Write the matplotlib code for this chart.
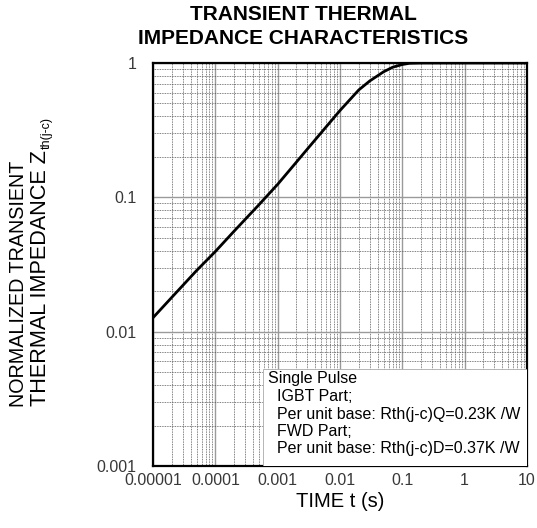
import numpy as np
import matplotlib
matplotlib.use("Agg")
import matplotlib.pyplot as plt
from matplotlib.patches import Rectangle
from matplotlib.ticker import FixedLocator, FixedFormatter, LogLocator, NullFormatter

plt.rcParams['font.family'] = ['Liberation Sans', 'DejaVu Sans']

time_s = [1e-5, 2e-5, 5e-5, 1e-4, 2e-4, 5e-4, 1e-3, 2e-3, 3e-3, 5e-3,
          1e-2, 2e-2, 3e-2, 5e-2, 7e-2, 0.1, 0.13, 0.2, 1.0, 10.0]
zth = [0.0127, 0.018, 0.0285, 0.0395, 0.056, 0.088, 0.125, 0.183, 0.229, 0.303,
       0.443, 0.63, 0.735, 0.86, 0.93, 0.975, 0.995, 1.0, 1.0, 1.0]

xticks = [1e-5, 1e-4, 1e-3, 1e-2, 1e-1, 1, 10]
xticklabels = ["0.00001", "0.0001", "0.001", "0.01", "0.1", "1", "10"]
yticks = [1e-3, 1e-2, 1e-1, 1]
yticklabels = ["0.001", "0.01", "0.1", "1"]

note_lines = ["Single Pulse",
              "  IGBT Part;",
              "  Per unit base: Rth(j-c)Q=0.23K /W",
              "  FWD Part;",
              "  Per unit base: Rth(j-c)D=0.37K /W"]

fig = plt.figure(figsize=(5.37, 5.28), dpi=100)
ax = fig.add_axes([153/537, 1-466/528, 374/537, 403/528])

ax.set_xscale('log')
ax.set_yscale('log')
ax.set_xlim(1e-5, 10)
ax.set_ylim(1e-3, 1)

ax.xaxis.set_major_locator(FixedLocator(xticks))
ax.xaxis.set_major_formatter(FixedFormatter(xticklabels))
ax.yaxis.set_major_locator(FixedLocator(yticks))
ax.yaxis.set_major_formatter(FixedFormatter(yticklabels))
ax.xaxis.set_minor_locator(LogLocator(base=10, subs=np.arange(2, 10), numticks=20))
ax.yaxis.set_minor_locator(LogLocator(base=10, subs=np.arange(2, 10), numticks=20))
ax.xaxis.set_minor_formatter(NullFormatter())
ax.yaxis.set_minor_formatter(NullFormatter())

ax.grid(which='major', color='#9a9a9a', linewidth=1.0, linestyle='-')
ax.grid(which='minor', color='#555555', linewidth=0.6, linestyle=(0, (1, 1)))
ax.set_axisbelow(True)
ax.tick_params(which='both', length=0)
ax.tick_params(axis='x', pad=5, labelsize=11.5, labelcolor='#383838')
ax.tick_params(axis='y', pad=12, labelsize=11.5, labelcolor='#383838')
for s in ax.spines.values():
    s.set_linewidth(1.6)
    s.set_color('black')

ax.plot(time_s, zth, color='black', linewidth=2.0, zorder=3)

# note box
ax.add_patch(Rectangle((0.294, 0), 0.706, 0.241, transform=ax.transAxes,
                       facecolor='white', edgecolor='#aaaaaa', linewidth=0.6, zorder=4))
line_y = [379, 396.5, 414, 431.5, 449]
for txt, y in zip(note_lines, line_y):
    ax.text(0.307, (466 - y) / 403, txt, transform=ax.transAxes, fontsize=11.5,
            ha='left', va='center', zorder=5)

ax.set_xlabel("TIME t (s)", fontsize=14.5, labelpad=3)

fig.text(303/537, 1 - 5/528, "TRANSIENT THERMAL\nIMPEDANCE CHARACTERISTICS",
         ha='center', va='top', fontsize=15, fontweight='bold', linespacing=1.3)

fig.text(19/537, 1 - 407/528, "NORMALIZED TRANSIENT", rotation=90,
         ha='center', va='bottom', fontsize=14.2)
yl2 = fig.text(41/537, 1 - 406/528, "THERMAL IMPEDANCE Z",
               rotation=90, ha='center', va='bottom', fontsize=15.6)
fig.canvas.draw()
bb = yl2.get_window_extent()
fig.text(46.5/537, (bb.y1 + 1) / fig.bbox.height, "th(j-c)", rotation=90,
         ha='center', va='bottom', fontsize=9)

fig.savefig("out.png", dpi=100)
